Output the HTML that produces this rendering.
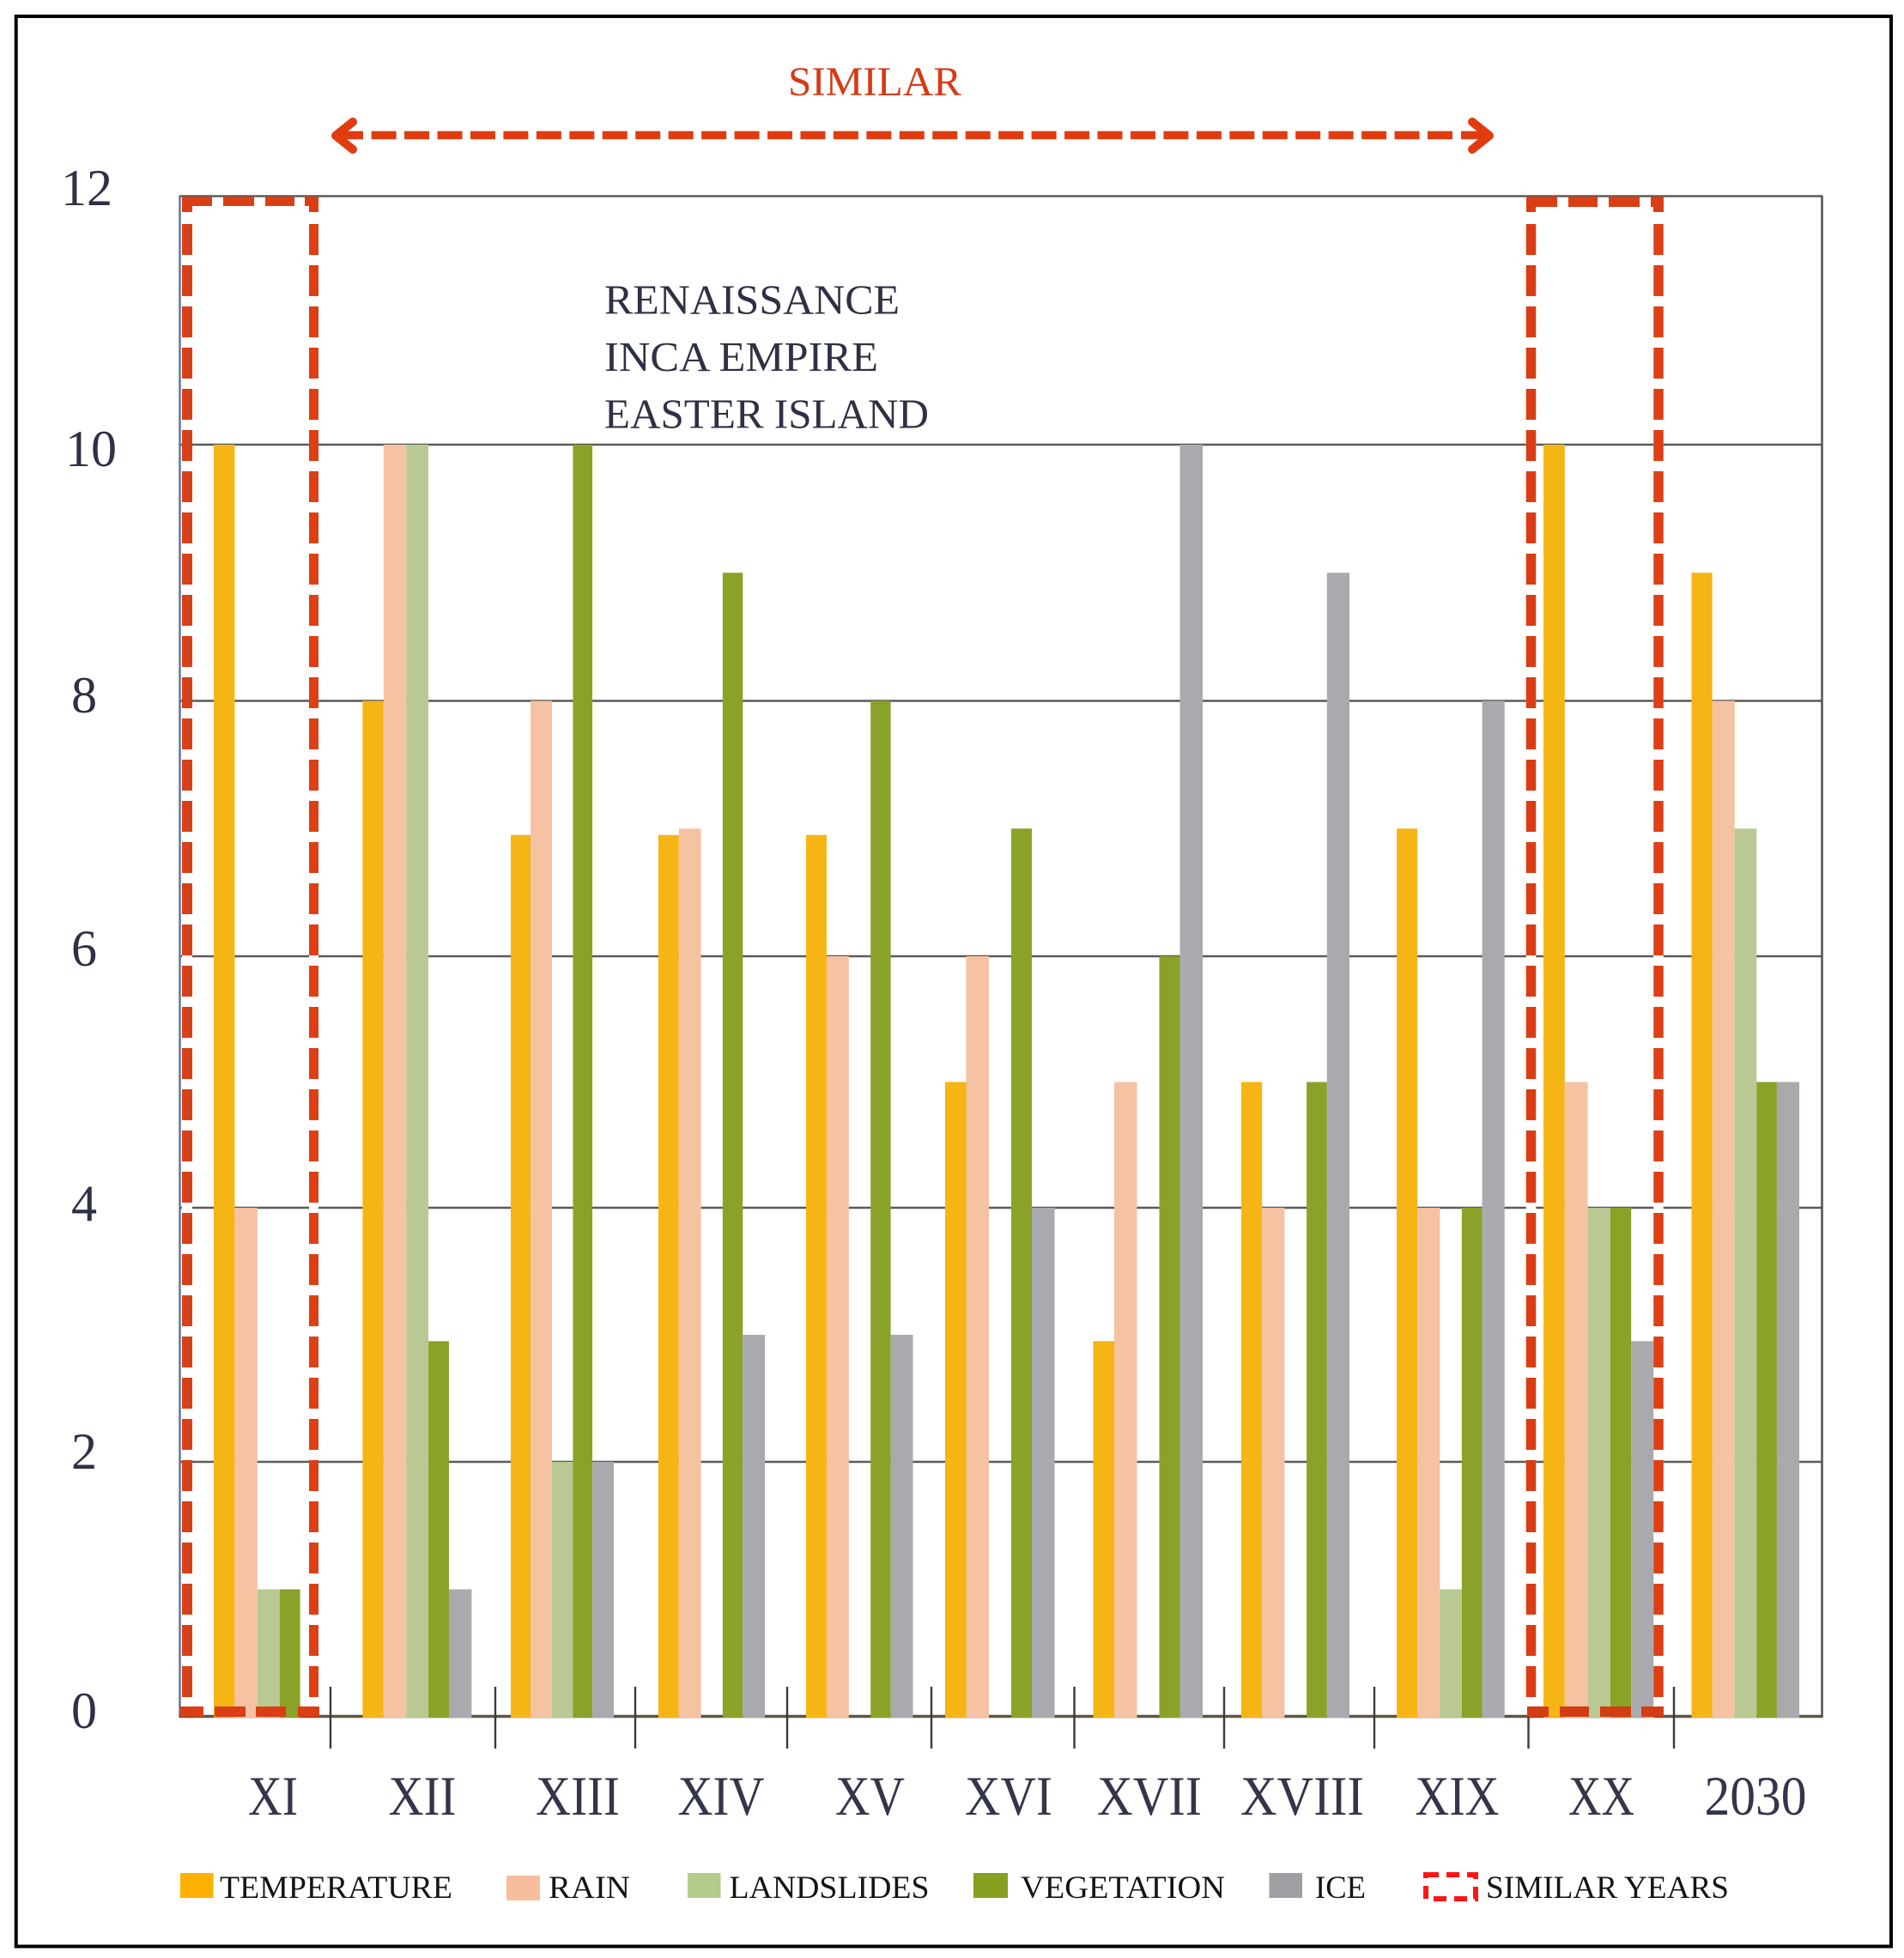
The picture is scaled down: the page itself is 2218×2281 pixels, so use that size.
<!DOCTYPE html>
<html lang="en">
<head>
<meta charset="utf-8">
<title>Similar climate years by century</title>
<style>
html,body{margin:0;padding:0;background:#fff;}
svg{display:block;}
text{font-family:"Liberation Serif","Noto Serif CJK SC",serif;}
</style>
</head>
<body>
<svg id="chart" xmlns="http://www.w3.org/2000/svg" width="2218" height="2281" viewBox="0 0 2218 2281">
  <rect x="0" y="0" width="2218" height="2281" fill="#fff"/>
  <rect x="18.7" y="19" width="2184.3" height="2248.5" fill="none" stroke="#000" stroke-width="4"/>

  <g id="grid"></g>
  <g id="frame">
    <line x1="209" y1="228.5" x2="2123" y2="228.5" stroke="#5c5c58" stroke-width="2.6"/>
    <line x1="209.5" y1="228" x2="209.5" y2="2001" stroke="#5a7390" stroke-width="2.4"/>
    <line x1="2122.5" y1="228" x2="2122.5" y2="2001" stroke="#55555c" stroke-width="2.6"/>
    <line x1="209" y1="1999.5" x2="2123" y2="1999.5" stroke="#5c5546" stroke-width="3.4"/>
  </g>
  <g id="ticks"></g>
  <g id="bars"></g>

  <g fill="none" stroke-linecap="butt">
    <line x1="218" y1="247" x2="218" y2="1988" stroke="#fff" stroke-width="12"/>
    <line x1="365.5" y1="247" x2="365.5" y2="1988" stroke="#fff" stroke-width="11"/>
    <line x1="218" y1="261" x2="218" y2="1978" stroke="#D8401A" stroke-width="12" stroke-dasharray="36 12"/>
    <line x1="365.5" y1="261" x2="365.5" y2="1978" stroke="#DE3F14" stroke-width="11" stroke-dasharray="36 12"/>
    <path stroke="none" fill="#DB3D14" d="M212 229H247V240H224V247H212ZM260 229H296V240H260ZM309 229H343V240H309ZM355 229H371V247H360V240H355Z"/>
    <path stroke="none" fill="#DB3D14" d="M210 1988H237V2000H210ZM250 1988H286V2000H250ZM298 1988H333V2000H298ZM347 1988H372V2000H347Z"/>
  </g>
  <g fill="none">
    <line x1="1783.5" y1="247" x2="1783.5" y2="1988" stroke="#fff" stroke-width="11.5"/>
    <line x1="1932" y1="247" x2="1932" y2="1988" stroke="#fff" stroke-width="11.5"/>
    <line x1="1783.5" y1="261" x2="1783.5" y2="1978" stroke="#DA3D14" stroke-width="11.5" stroke-dasharray="36 12"/>
    <line x1="1932" y1="261" x2="1932" y2="1978" stroke="#DE3F14" stroke-width="11.5" stroke-dasharray="36 12"/>
    <path stroke="none" fill="#DB3D14" d="M1778 229H1814V241H1789V247H1778ZM1827 229H1861V241H1827ZM1874 229H1910V241H1874ZM1923 229H1938V247H1926V241H1923Z"/>
    <path stroke="none" fill="#D43C12" d="M1779 1988H1804V2000H1779ZM1817 1988H1851V2000H1817ZM1864 1988H1900V2000H1864ZM1912 1988H1938V2000H1912Z"/>
  </g>

  <g id="ylabels"></g>
  <g id="xlabels"></g>

  <text x="918" y="111" font-size="48" textLength="202" lengthAdjust="spacingAndGlyphs" fill="#D63A16">SIMILAR</text>
  <g fill="none" stroke="#E03C10">
    <line x1="432.6" y1="157.5" x2="1692" y2="157.5" stroke-width="9.5" stroke-dasharray="29 9.45"/>
    <line x1="395" y1="157.5" x2="423" y2="157.5" stroke-width="9.5"/>
    <polyline points="411,142 391,158 411,174" stroke-width="10" stroke-linecap="round" stroke-linejoin="round"/>
    <line x1="1702" y1="157.5" x2="1732" y2="157.5" stroke-width="9.5"/>
    <polyline points="1715,142 1735,158 1715,174" stroke-width="10" stroke-linecap="round" stroke-linejoin="round"/>
  </g>

  <g fill="#2e3044" font-size="49">
    <text x="704" y="365.5" textLength="344" lengthAdjust="spacingAndGlyphs">RENAISSANCE</text>
    <text x="704" y="432" textLength="319" lengthAdjust="spacingAndGlyphs">INCA EMPIRE</text>
    <text x="704" y="498.5" textLength="378" lengthAdjust="spacingAndGlyphs">EASTER ISLAND</text>
  </g>

  <g font-size="37" fill="#141414">
    <g>
      <rect x="210" y="2182" width="38.5" height="29" fill="#FFB000"/>
      <text x="256" y="2211" textLength="271" lengthAdjust="spacingAndGlyphs">TEMPERATURE</text>
    </g>
    <g>
      <rect x="590" y="2185" width="39" height="29" fill="#F7BE9D"/>
      <text x="639" y="2211" textLength="95" lengthAdjust="spacingAndGlyphs">RAIN</text>
    </g>
    <g>
      <rect x="801" y="2182" width="38.5" height="29" fill="#B5CB8A"/>
      <text x="849.5" y="2211" textLength="233" lengthAdjust="spacingAndGlyphs">LANDSLIDES</text>
    </g>
    <g>
      <rect x="1134" y="2182" width="40" height="29" fill="#86A01F"/>
      <text x="1189" y="2211" textLength="238" lengthAdjust="spacingAndGlyphs">VEGETATION</text>
    </g>
    <g>
      <rect x="1478.5" y="2182" width="38.5" height="29" fill="#A0A0A4"/>
      <text x="1532" y="2211" textLength="59" lengthAdjust="spacingAndGlyphs">ICE</text>
    </g>
    <g>
      <rect x="1661" y="2184" width="58" height="28" fill="none" stroke="#FF1414" stroke-width="6" stroke-dasharray="15 9"/>
      <text x="1731" y="2211" textLength="283" lengthAdjust="spacingAndGlyphs">SIMILAR YEARS</text>
    </g>
  </g>
</svg>

<script>
// Data
const categories = ['XI','XII','XIII','XIV','XV','XVI','XVII','XVIII','XIX','XX','2030'];
const temperature = [10, 8, 6.95, 6.95, 6.95, 5, 2.95, 5, 7, 10, 9];
const rain = [4, 10, 8, 7, 6, 6, 5, 4, 4, 5, 8];
const landslides = [1, 10, 2, 0, 0, 0, 0, 0, 1, 4, 7];
const vegetation = [1, 2.95, 10, 9, 8, 7, 6, 5, 4, 4, 5];
const ice = [0, 1, 2, 3, 3, 4, 10, 9, 8, 2.95, 5];
const yTickLabels = [0, 2, 4, 6, 8, 10, 12];
const gridValues = [2, 4, 6, 8, 10];

// Layout (not data): the printed axis is slightly irregular, so the axis
// functions are calibrated against it.
const svgNS = 'http://www.w3.org/2000/svg';
const seriesList = [
  { key: 'temperature', values: temperature, color: '#F5B515', share: 24.5 },
  { key: 'rain', values: rain, color: '#F5C2A2', share: 26.5 },
  { key: 'landslides', values: landslides, color: '#B9C993', share: 26 },
  { key: 'vegetation', values: vegetation, color: '#8AA228', share: 24 },
  { key: 'ice', values: ice, color: '#A9AAAE', share: 26.5 }
];
const shareTotal = 127.5;
const bandStart = [249, 422.4, 595, 767, 939, 1101, 1273.5, 1446, 1627, 1798, 1970.5];
const bandWidth = [127, 127, 120, 124, 124.5, 127.5, 127.5, 126, 125.7, 129, 125.5];
const axisCalibration = [2000, 1703, 1407, 1114, 816.5, 518];
const separatorX = [385, 577, 740, 917, 1085, 1251.5, 1426, 1601, 1780.5, 1950];
const xLabelCenter = [318, 492, 673, 840, 1013.5, 1175, 1339, 1517, 1697.5, 1865.5, 2045];
const xLabelWidth = [58, 79, 98, 101, 81, 102, 122, 144, 98, 77, 119];
const yLabelRight = [113, 113, 113, 113, 113, 136, 131];
const yLabelBaseline = [2013, 1711, 1422, 1125, 830, 543, 239];

function yScale(v) {
  const unit = v / 2;
  const k = Math.max(0, Math.min(axisCalibration.length - 2, Math.floor(unit)));
  return axisCalibration[k] + (unit - k) * (axisCalibration[k + 1] - axisCalibration[k]);
}
function make(tag, parent, attrs) {
  const el = document.createElementNS(svgNS, tag);
  for (const k in attrs) el.setAttribute(k, attrs[k]);
  parent.appendChild(el);
  return el;
}

const gridGroup = document.getElementById('grid');
gridValues.forEach(function (v) {
  const line = make('line', gridGroup, { x1: 209, x2: 2123, y1: yScale(v), y2: yScale(v), stroke: '#5a5a58', 'stroke-width': 2.6 });
  
  
});

const tickGroup = document.getElementById('ticks');
separatorX.forEach(function (x, i) {
  const tick = make('line', tickGroup, { x1: x, x2: x, y1: 1965, y2: 2037, stroke: '#3c3a3a', 'stroke-width': 2.4 });
  
  
});

const barGroup = document.getElementById('bars');
categories.forEach(function (cat, i) {
  let x = bandStart[i];
  const k = bandWidth[i] / shareTotal;
  seriesList.forEach(function (s) {
    const v = s.values[i];
    const w = s.share * k;
    if (v > 0) {
      const bar = make('rect', barGroup, { x: x, y: yScale(v), width: w, height: 2001 - yScale(v), fill: s.color });
      
      
    }
    x += w;
  });
});

const yLabelGroup = document.getElementById('ylabels');
yTickLabels.forEach(function (v, i) {
  const t = make('text', yLabelGroup, { x: yLabelRight[i], y: yLabelBaseline[i], 'text-anchor': 'end', 'font-size': 60, fill: '#2e3044' });
  t.textContent = String(v);
  
  
});

const xLabelGroup = document.getElementById('xlabels');
categories.forEach(function (cat, i) {
  const t = make('text', xLabelGroup, { x: xLabelCenter[i], y: 2114, 'text-anchor': 'middle', 'font-size': 65, fill: '#33354a', textLength: xLabelWidth[i], lengthAdjust: 'spacingAndGlyphs' });
  t.textContent = cat;
  
  
});
</script>
</body>
</html>
